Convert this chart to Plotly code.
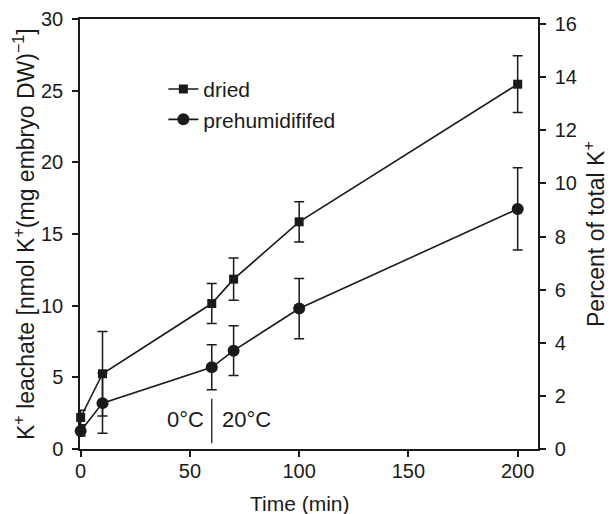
import plotly.graph_objects as go

time_min = [0, 10, 60, 70, 100, 200]
dried = [2.2, 5.25, 10.15, 11.85, 15.85, 25.45]
dried_err = [0.5, 2.95, 1.4, 1.47, 1.4, 1.98]
prehum = [1.25, 3.2, 5.7, 6.86, 9.8, 16.75]
prehum_err = [0.35, 2.1, 1.57, 1.74, 2.1, 2.87]

x_ticks = [0, 50, 100, 150, 200]
left_ticks = [0, 5, 10, 15, 20, 25, 30]
right_ticks = [0, 2, 4, 6, 8, 10, 12, 14, 16]
right_max = 16.19

divider_x = 60
divider_y = [0.4, 3.5]
label_y = 2.05

x_title = "Time (min)"
y_title = "K<sup>+</sup> leachate [nmol K<sup>+</sup>(mg embryo DW)<sup>−1</sup>]"
y2_title = "Percent of total K<sup>+</sup>"

FONT = "Liberation Sans, Arial, sans-serif"
INK = "#1a1a1a"
FS_TICK = 20
FS = 22

fig = go.Figure()
fig.add_trace(go.Scatter(
    x=time_min, y=dried, name="dried", mode="lines+markers",
    line=dict(color=INK, width=1.6),
    marker=dict(symbol="square", size=9, color=INK),
    error_y=dict(type="data", array=dried_err, color=INK, thickness=1.5, width=5),
    cliponaxis=False,
))
fig.add_trace(go.Scatter(
    x=time_min, y=prehum, name="prehumidififed", mode="lines+markers",
    line=dict(color=INK, width=1.6),
    marker=dict(symbol="circle", size=12, color=INK),
    error_y=dict(type="data", array=prehum_err, color=INK, thickness=1.5, width=5),
    cliponaxis=False,
))
fig.add_trace(go.Scatter(x=[None], y=[None], yaxis="y2", showlegend=False,
                         hoverinfo="skip", mode="markers"))

fig.add_shape(type="line", x0=divider_x, x1=divider_x, y0=divider_y[0], y1=divider_y[1],
              xref="x", yref="y", line=dict(color=INK, width=1.3))
fig.add_annotation(x=divider_x, y=label_y, text="0°C", showarrow=False, xanchor="right",
                   xshift=-6, font=dict(family=FONT, size=FS, color=INK))
fig.add_annotation(x=divider_x, y=label_y, text="20°C", showarrow=False, xanchor="left",
                   xshift=8, font=dict(family=FONT, size=FS, color=INK))

# axis titles
fig.add_annotation(x=0.48, y=0, xref="paper", yref="paper", text=x_title, showarrow=False,
                   xanchor="center", yanchor="middle", yshift=-54,
                   font=dict(family=FONT, size=21, color=INK))
fig.add_annotation(x=0, y=0.5, xref="paper", yref="paper", text=y_title, showarrow=False,
                   textangle=-90, xanchor="center", yanchor="middle", xshift=-56, borderpad=0,
                   font=dict(family=FONT, size=23, color=INK))
fig.add_annotation(x=1, y=0.5, xref="paper", yref="paper", text=y2_title, showarrow=False,
                   textangle=-90, xanchor="center", yanchor="middle", xshift=56, borderpad=0,
                   font=dict(family=FONT, size=23, color=INK))

axis_common = dict(showline=True, linecolor=INK, linewidth=1.5, ticks="outside",
                   ticklen=6, tickwidth=1.5, tickcolor=INK, showgrid=False, zeroline=False,
                   automargin=False,
                   tickfont=dict(family=FONT, size=FS_TICK, color=INK))

# page body adds an 8px offset, so the figure is 8px smaller than the window
fig.update_layout(
    width=605, height=506,
    margin=dict(l=72, r=75, t=11, b=65),
    paper_bgcolor="white", plot_bgcolor="white",
    font=dict(family=FONT, size=FS, color=INK),
    showlegend=True,
    legend=dict(x=0.182, y=0.884, xanchor="left", yanchor="top", bgcolor="rgba(0,0,0,0)",
                font=dict(family=FONT, size=21, color=INK), tracegroupgap=0),
    xaxis=dict(range=[-0.3, 209.3], tickvals=x_ticks, mirror=True, ticklabelstandoff=-3,
               **axis_common),
    yaxis=dict(range=[0, 30], tickvals=left_ticks, ticklabelstandoff=5, **axis_common),
    yaxis2=dict(range=[0, right_max], tickvals=right_ticks, overlaying="y", side="right",
                anchor="x", ticklabelstandoff=5, **axis_common),
)

fig.write_html("out.html")
